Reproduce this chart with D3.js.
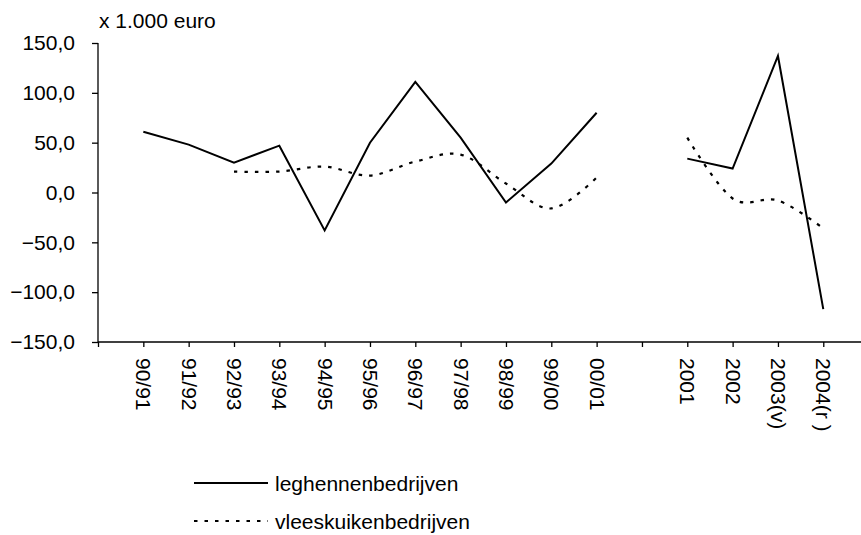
<!DOCTYPE html>
<html>
<head>
<meta charset="utf-8">
<script src="https://cdn.jsdelivr.net/npm/d3@7"></script>
<style>
  html, body { margin: 0; padding: 0; background: #fff; }
  svg { display: block; font-family: "Liberation Sans", Arial, sans-serif; }
</style>
</head>
<body>
<svg id="chart" width="861" height="535"></svg>
<script>
// Categories along the x axis; an empty slot separates the seasons from the calendar years
const categories = ["90/91", "91/92", "92/93", "93/94", "94/95", "95/96", "96/97", "97/98",
                    "98/99", "99/00", "00/01", "", "2001", "2002", "2003(v)", "2004(r )"];

// Results in x 1.000 euro (null = no value)
const leghennen = [61, 48, 30, 47, -38, 50, 111, 55, -10, 29, 80, null, 34, 24, 137, -117];
const vleeskuiken = [null, null, 21, 21, 26, 17, 31, 38, 9, -16, 15, null, 55, -6, -8, -36];

const yTicks = [-150, -100, -50, 0, 50, 100, 150];
const seriesNames = ["leghennenbedrijven", "vleeskuikenbedrijven"];
const unitLabel = "x 1.000 euro";

const svg = d3.select("#chart");
const fmt = v => d3.format(".1f")(v).replace(".", ",");

// Point scale with a blank slot before the first and after the last category
const slots = ["__start", ...categories.map((c, i) => "c" + i), "__end"];
const x = d3.scalePoint().domain(slots).range([98, 98 + 17 * 45.33]);
const xc = i => x("c" + i);
const y = d3.scaleLinear().domain([-150, 150]).range([342, 43]);

// Y axis
const yAxis = svg.append("g")
  .attr("transform", "translate(98,0)")
  .call(d3.axisLeft(y).tickValues(yTicks).tickFormat(fmt).tickSize(6).tickPadding(17));
yAxis.select(".domain").attr("stroke", "#000").attr("stroke-width", 1.3).attr("d", `M0,${y(150)}V${y(-150)}`);
yAxis.selectAll(".tick line").attr("stroke", "#000").attr("stroke-width", 1.3);
yAxis.selectAll(".tick text").attr("font-size", 21).attr("fill", "#000")
  .attr("font-family", "Liberation Sans, Arial, sans-serif");

// X axis at the bottom (-150)
const xAxis = svg.append("g")
  .attr("transform", `translate(0,${y(-150)})`)
  .call(d3.axisBottom(x)
    .tickValues(slots.filter(s => s !== "__end"))
    .tickFormat(s => s.startsWith("c") ? categories[+s.slice(1)] : "")
    .tickSize(5));
xAxis.select(".domain").attr("stroke", "#000").attr("stroke-width", 1.3).attr("d", `M98,0H861`);
xAxis.selectAll(".tick line").attr("stroke", "#000").attr("stroke-width", 1.3);
xAxis.selectAll(".tick text")
  .attr("font-size", 21).attr("fill", "#000")
  .attr("font-family", "Liberation Sans, Arial, sans-serif")
  .attr("transform", "rotate(90)")
  .attr("text-anchor", "start")
  .attr("x", 16).attr("y", 0).attr("dy", "0.35em");

// Unit label
svg.append("text").attr("x", 99).attr("y", 28).attr("font-size", 21).text(unitLabel);

// Series lines
const solidLine = d3.line()
  .defined(d => d != null)
  .x((d, i) => xc(i)).y(d => y(d));
const smoothLine = d3.line()
  .defined(d => d != null)
  .curve(d3.curveCardinal.tension(0))
  .x((d, i) => xc(i)).y(d => y(d));

svg.append("path").datum(vleeskuiken)
  .attr("d", smoothLine).attr("fill", "none")
  .attr("stroke", "#000").attr("stroke-width", 2.2).attr("stroke-dasharray", "3.5,7");

svg.append("path").datum(leghennen)
  .attr("d", solidLine).attr("fill", "none")
  .attr("stroke", "#000").attr("stroke-width", 2).attr("stroke-linejoin", "miter");

// Legend
const legend = svg.append("g");
const legendRows = [
  { name: seriesNames[0], y: 483, dash: null },
  { name: seriesNames[1], y: 521, dash: "3.5,7" }
];
legendRows.forEach(r => {
  legend.append("line").attr("x1", 194).attr("x2", 268).attr("y1", r.y).attr("y2", r.y)
    .attr("stroke", "#000").attr("stroke-width", 2)
    .attr("stroke-dasharray", r.dash);
  legend.append("text").attr("x", 275).attr("y", r.y + 8).attr("font-size", 21).text(r.name);
});
</script>
</body>
</html>
